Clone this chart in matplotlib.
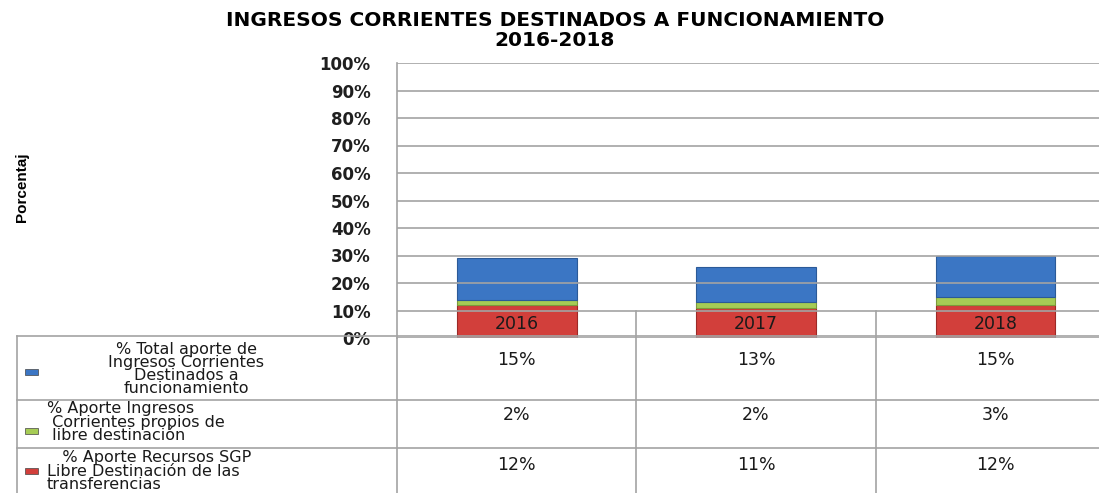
import matplotlib.pyplot as plt
from matplotlib.patches import Rectangle

years = ['2016', '2017', '2018']
sgp = [0.12, 0.11, 0.12]          # % Aporte Recursos SGP
propios = [0.02, 0.02, 0.03]      # % Aporte Ingresos Corrientes propios
total_func = [0.15, 0.13, 0.15]   # % Total aporte ... funcionamiento

row_labels = ['% Total aporte de\nIngresos Corrientes\nDestinados a\nfuncionamiento',
              '% Aporte Ingresos\n Corrientes propios de\n libre destinación',
              '   % Aporte Recursos SGP\nLibre Destinación de las\ntransferencias']
ytick_labels = ['0%', '10%', '20%', '30%', '40%', '50%', '60%', '70%', '80%', '90%', '100%']

blue, green, red = '#3b76c4', '#a6cc55', '#d23f3b'
line_c = '#a3a3a3'

W, H = 1099, 493
fig = plt.figure(figsize=(W / 100, H / 100), dpi=100)
ax = fig.add_axes([397 / W, (H - 338) / H, 718 / W, 275 / H])

x = list(range(len(years)))
bw = 0.5
bottom2 = [a + b for a, b in zip(sgp, propios)]
ax.bar(x, sgp, bw, color=red, edgecolor='#9c2a27', lw=0.8)
ax.bar(x, propios, bw, bottom=sgp, color=green, edgecolor='#7c9a3a', lw=0.8)
ax.bar(x, total_func, bw, bottom=bottom2, color=blue, edgecolor='#2b5a98', lw=0.8)
for i, yr in enumerate(years):
    ax.text(i, 0.05, yr, ha='center', va='center', fontsize=12.5, color='#1a1a1a')

ax.set_xlim(-0.5, 2.5)
ax.set_ylim(0, 1)
ax.set_yticks([i / 10 for i in range(11)])
ax.set_yticklabels(ytick_labels, fontsize=12, fontweight='bold', color='#1f1f1f')
ax.tick_params(axis='y', length=0, pad=19)
ax.set_xticks([])
ax.grid(axis='y', color=line_c, lw=1.2)
ax.set_axisbelow(False)
for s in ['top', 'right', 'bottom']:
    ax.spines[s].set_visible(False)
ax.spines['left'].set_color(line_c)
ax.spines['left'].set_linewidth(1.2)

# titulo y etiqueta del eje
fig.text(555 / W, 1 - 21 / H, 'INGRESOS CORRIENTES DESTINADOS A FUNCIONAMIENTO',
         ha='center', va='center', fontsize=14.5, fontweight='bold')
fig.text(555 / W, 1 - 41 / H, '2016-2018', ha='center', va='center',
         fontsize=14.5, fontweight='bold')
fig.text(22 / W, 1 - 187 / H, 'Porcentaj', rotation=90, ha='center', va='center',
         fontsize=11, fontweight='bold', family=['Liberation Sans Narrow', 'Liberation Sans'])

# tabla de datos debajo del grafico
tab = fig.add_axes([0, 0, 1, 1], zorder=5)
tab.set_xlim(0, W)
tab.set_ylim(H, 0)
tab.axis('off')

col_x = [ax.transData.transform((i, 0))[0] for i in x]
edges = [ax.transData.transform((e, 0))[0] for e in (-0.5, 0.5, 1.5)]
y10 = H - ax.transData.transform((0, 0.1))[1]

row_tops = [336, 400, 448]
for yy in row_tops:
    tab.plot([17, W], [yy, yy], color=line_c, lw=1.2)
tab.plot([17, 17], [336, H], color=line_c, lw=1.2)
tab.plot([edges[0], edges[0]], [338, H], color=line_c, lw=1.2)
for e in edges[1:]:
    tab.plot([e, e], [y10, H], color=line_c, lw=1.2)

rows = [total_func, propios, sgp]
colors = [blue, green, red]
label_x = [186, 47, 47]
label_ha = ['center', 'left', 'left']
label_y = [369, 422, 471]
swatch_y = [372, 431, 471]
value_y = [360, 415, 465]
for r, vals in enumerate(rows):
    tab.add_patch(Rectangle((25, swatch_y[r] - 3), 13, 6, facecolor=colors[r],
                            edgecolor='#444444', lw=0.5))
    tab.text(label_x[r], label_y[r], row_labels[r], ha=label_ha[r], va='center',
             multialignment=label_ha[r], fontsize=11.5, linespacing=0.86, color='#1a1a1a')
    for i, v in enumerate(vals):
        tab.text(col_x[i], value_y[r], f'{round(v * 100)}%', ha='center', va='center',
                 fontsize=12.5, color='#1a1a1a')

fig.savefig('out.png', dpi=100)
